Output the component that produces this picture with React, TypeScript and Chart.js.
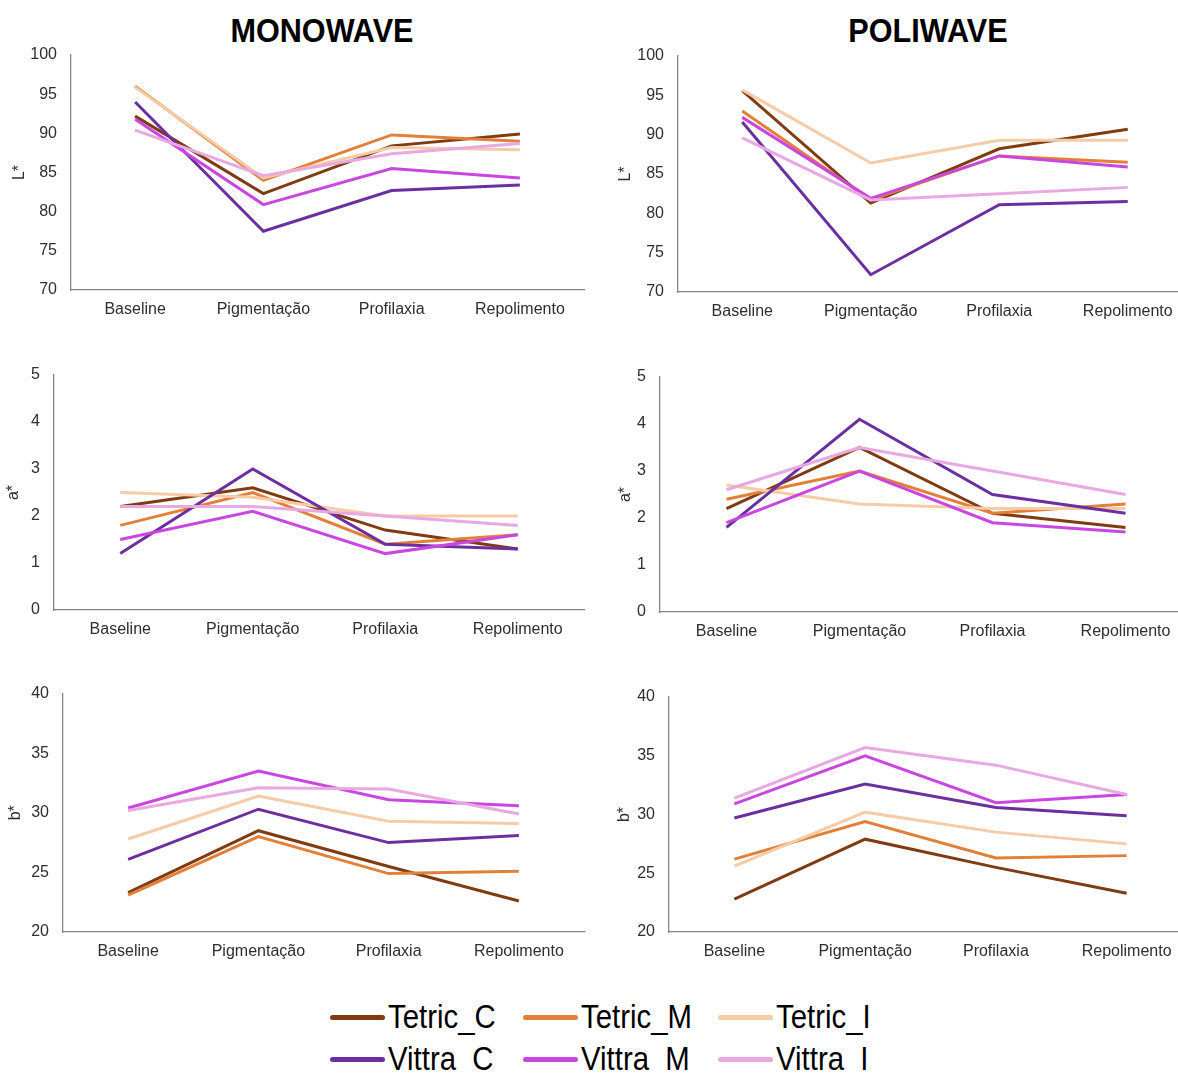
import React, { useEffect, useRef } from 'react';
import { Chart, registerables } from 'chart.js';

Chart.register(...registerables);

const categories = ['Baseline', 'Pigmentação', 'Profilaxia', 'Repolimento'];
const seriesNames = ['Tetric_C', 'Tetric_M', 'Tetric_I', 'Vittra_C', 'Vittra_M', 'Vittra_I'];
const seriesColors = ['#7f3c12', '#e2803a', '#f5cba8', '#6b2f9f', '#c946e0', '#e8a8e2'];
const panelTitles = ['MONOWAVE', 'POLIWAVE'];

const yTicksL = { min: 70, max: 100, step: 5 };
const yTicksA = { min: 0, max: 5, step: 1 };
const yTicksB = { min: 20, max: 40, step: 5 };

// series order: Tetric_C, Tetric_M, Tetric_I, Vittra_C, Vittra_M, Vittra_I
const monoL: number[][] = [
  [92.2, 82.3, 88.4, 89.9],
  [96.0, 84.0, 89.8, 89.0],
  [95.9, 84.3, 88.2, 87.9],
  [94.0, 77.5, 82.7, 83.4],
  [91.8, 80.9, 85.5, 84.3],
  [90.4, 84.6, 87.4, 88.7],
];
const poliL: number[][] = [
  [95.6, 81.3, 88.2, 90.7],
  [93.0, 81.7, 87.3, 86.5],
  [95.7, 86.4, 89.3, 89.3],
  [91.6, 72.2, 81.1, 81.5],
  [92.2, 81.9, 87.3, 85.9],
  [89.6, 81.7, 82.5, 83.3],
];
const monoA: number[][] = [
  [2.2, 2.6, 1.7, 1.3],
  [1.8, 2.5, 1.4, 1.6],
  [2.5, 2.4, 2.0, 2.0],
  [1.2, 3.0, 1.4, 1.3],
  [1.5, 2.1, 1.2, 1.6],
  [2.2, 2.2, 2.0, 1.8],
];
const poliA: number[][] = [
  [2.2, 3.5, 2.1, 1.8],
  [2.4, 3.0, 2.1, 2.3],
  [2.7, 2.3, 2.2, 2.2],
  [1.8, 4.1, 2.5, 2.1],
  [1.9, 3.0, 1.9, 1.7],
  [2.6, 3.5, 3.0, 2.5],
];
const monoB: number[][] = [
  [23.3, 28.5, 25.5, 22.6],
  [23.1, 28.0, 24.9, 25.1],
  [27.8, 31.4, 29.3, 29.1],
  [26.1, 30.3, 27.5, 28.1],
  [30.4, 33.5, 31.1, 30.6],
  [30.2, 32.1, 32.0, 29.9],
];
const poliB: number[][] = [
  [22.8, 27.9, 25.5, 23.3],
  [26.2, 29.4, 26.3, 26.5],
  [25.6, 30.2, 28.5, 27.5],
  [29.7, 32.6, 30.6, 29.9],
  [30.9, 35.0, 31.0, 31.7],
  [31.4, 35.7, 34.2, 31.7],
];

const FONT = "'Liberation Sans', Arial, sans-serif";
const TEXT = '#2e2e2e';
const AXIS = '#858585';

type Box = { left: number; top: number; width: number; height: number };
type Area = { l: number; r: number; t: number; b: number };

function LineChart(props: {
  box: Box; area: Area; yTitle: string; titleOffset: number;
  yRange: { min: number; max: number; step: number }; values: number[][];
}) {
  const ref = useRef<HTMLCanvasElement>(null);
  const { box, area, yTitle, titleOffset, yRange, values } = props;
  useEffect(() => {
    const tickFont = { family: FONT, size: 16 };
    const chart = new Chart(ref.current!, {
      type: 'line',
      data: {
        labels: categories,
        datasets: seriesNames.map((name, i) => ({
          label: name,
          data: values[i],
          borderColor: seriesColors[i],
          backgroundColor: seriesColors[i],
          borderWidth: 3,
          pointRadius: 0,
          tension: 0,
          fill: false,
          order: seriesNames.length - i,
        })),
      },
      options: {
        animation: false,
        responsive: false,
        maintainAspectRatio: false,
        layout: {
          padding: {
            left: 0,
            top: area.t - box.top,
            right: box.left + box.width - area.r,
            bottom: 0,
          },
        },
        plugins: {
          legend: { display: false },
          tooltip: { enabled: false },
          title: { display: false },
        },
        scales: {
          x: {
            offset: true,
            grid: { display: false, drawTicks: false },
            border: { display: true, color: AXIS, width: 1.3 },
            ticks: { font: tickFont, color: TEXT, padding: 10, maxRotation: 0, autoSkip: false },
            afterFit: (s: any) => { s.height = box.top + box.height - area.b; },
          },
          y: {
            min: yRange.min,
            max: yRange.max,
            grid: { display: false, drawTicks: false },
            border: { display: true, color: AXIS, width: 1.3 },
            ticks: { stepSize: yRange.step, font: tickFont, color: TEXT, padding: 14 },
            title: {
              display: true,
              text: yTitle,
              font: { family: FONT, size: 16 },
              color: TEXT,
              padding: { top: titleOffset, bottom: 0 },
            },
            afterFit: (s: any) => { s.width = area.l - box.left; },
          },
        },
      },
    } as any);
    return () => chart.destroy();
  }, []);
  return (
    <canvas
      ref={ref}
      width={box.width}
      height={box.height}
      style={{ position: 'absolute', left: box.left, top: box.top, width: box.width, height: box.height }}
    />
  );
}

const legendStarts = [330, 523, 718];
const legendRows = [1017, 1059];

export default function App() {
  return (
    <div style={{ position: 'fixed', left: 0, top: 0, width: 1178, height: 1074, overflow: 'hidden', background: '#fff', fontFamily: FONT }}>
      {panelTitles.map((t, i) => (
        <div key={t} style={{
          position: 'absolute', left: (i === 0 ? 322 : 928) - 150, top: 13, width: 300, textAlign: 'center',
          fontSize: 34, lineHeight: '34px', fontWeight: 'bold', color: '#000', transform: 'scaleX(0.9)',
        }}>{t}</div>
      ))}

      <LineChart box={{ left: 0, top: 30, width: 590, height: 300 }} area={{ l: 71, r: 584, t: 55, b: 290 }}
        yTitle="L*" titleOffset={10} yRange={yTicksL} values={monoL} />
      <LineChart box={{ left: 590, top: 30, width: 610, height: 302 }} area={{ l: 678, r: 1192, t: 56, b: 292 }}
        yTitle="L*" titleOffset={26} yRange={yTicksL} values={poliL} />
      <LineChart box={{ left: 0, top: 350, width: 590, height: 300 }} area={{ l: 54, r: 584, t: 375, b: 610 }}
        yTitle="a*" titleOffset={4} yRange={yTicksA} values={monoA} />
      <LineChart box={{ left: 590, top: 350, width: 610, height: 302 }} area={{ l: 660, r: 1192, t: 377, b: 612 }}
        yTitle="a*" titleOffset={26} yRange={yTicksA} values={poliA} />
      <LineChart box={{ left: 0, top: 670, width: 590, height: 302 }} area={{ l: 63, r: 584, t: 693, b: 932 }}
        yTitle="b*" titleOffset={6} yRange={yTicksB} values={monoB} />
      <LineChart box={{ left: 590, top: 670, width: 610, height: 302 }} area={{ l: 669, r: 1192, t: 697, b: 932 }}
        yTitle="b*" titleOffset={25} yRange={yTicksB} values={poliB} />

      {seriesNames.map((name, i) => {
        const row = Math.floor(i / 3);
        const col = i % 3;
        const x = legendStarts[col];
        const y = legendRows[row];
        return (
          <React.Fragment key={name}>
            <div style={{
              position: 'absolute', left: x, top: y - 2.5, width: 55, height: 5,
              borderRadius: 3, background: seriesColors[i],
            }} />
            <div style={{
              position: 'absolute', left: x + 58, top: y - 17, fontSize: 33, lineHeight: '33px',
              color: '#000', transform: 'scaleX(0.89)', transformOrigin: 'left center', whiteSpace: 'nowrap',
            }}>{name}</div>
          </React.Fragment>
        );
      })}
    </div>
  );
}
